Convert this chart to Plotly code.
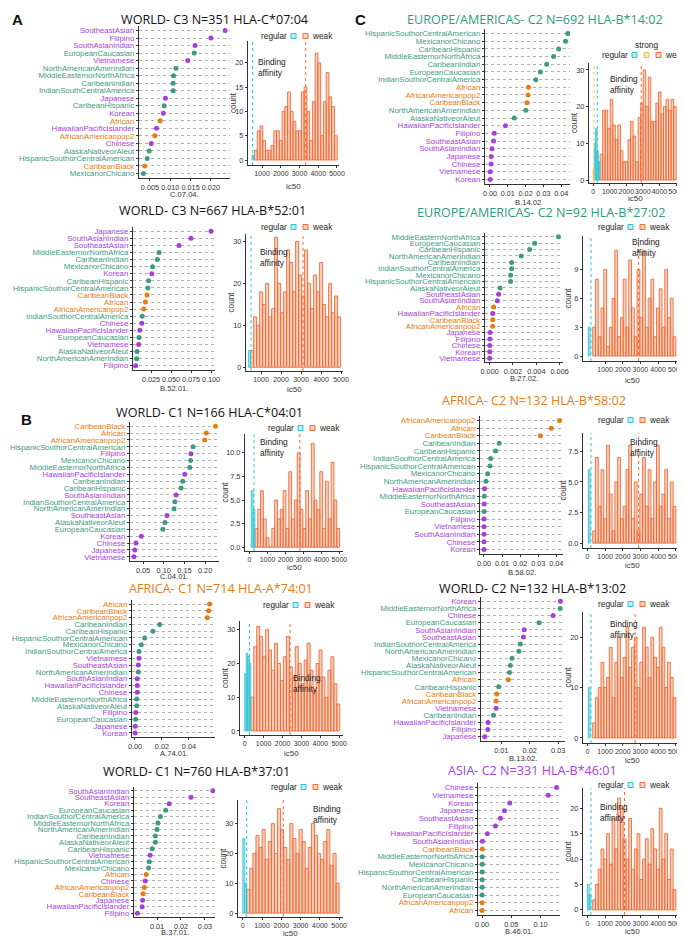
import plotly.graph_objects as go

W, H = 685, 938
PURPLE = "#A63FDB"; GREEN = "#3E9B80"; ORANGE = "#E67C12"
CYAN = "#2EC4D6"; WEAKC = "#F26A35"; STRONGC = "#EBC05A"
ASIAN = {"SoutheastAsian", "Filipino", "SouthAsianIndian", "Vietnamese", "Japanese",
         "Korean", "HawaiianPacificIslander", "Chinese"}
AFRO = {"African", "AfricanAmericanpop2", "CaribeanBlack"}

# ---------------- data ----------------
A1_pops = ["SoutheastAsian", "Filipino", "SouthAsianIndian", "EuropeanCaucasian", "Vietnamese",
           "NorthAmericanAmerindian", "MiddleEasternorNorthAfrica", "CaribeanIndian",
           "IndianSouthCentralAmerica", "Japanese", "CaribeanHispanic", "Korean", "African",
           "HawaiianPacificIslander", "AfricanAmericanpop2", "Chinese", "AlaskaNativeorAleut",
           "HispanicSouthorCentralAmerican", "CaribeanBlack", "MexicanorChicano"]
A1_freq = [0.0235, 0.0200, 0.0161, 0.0159, 0.0143, 0.0114, 0.0108, 0.0107, 0.0107, 0.0088,
           0.0085, 0.0083, 0.0075, 0.0066, 0.0062, 0.0053, 0.0048, 0.0043, 0.0037, 0.0034]
A1_weak = [2, 6, 7, 4, 2, 2, 3, 6, 6, 4, 10, 11, 14, 10, 8, 6, 6, 14, 15, 10, 4, 12, 22, 20, 5, 12, 18, 13, 11, 5]
A1_regular = [1]

A2_pops = ["Japanese", "SouthAsianIndian", "SoutheastAsian", "MiddleEasternorNorthAfrica",
           "CaribeanIndian", "MexicanorChicano", "Korean", "CaribeanHispanic",
           "HispanicSouthorCentralAmerican", "CaribeanBlack", "African", "AfricanAmericanpop2",
           "IndianSouthorCentralAmerica", "Chinese", "HawaiianPacificIslander", "EuropeanCaucasian",
           "Vietnamese", "AlaskaNativeorAleut", "NorthAmericanAmerindian", "Filipino"]
A2_freq = [0.100, 0.075, 0.060, 0.035, 0.033, 0.027, 0.026, 0.022, 0.021, 0.020, 0.018, 0.016,
           0.014, 0.0135, 0.011, 0.010, 0.0096, 0.0075, 0.0070, 0.0058]
A2_weak = [4, 12, 10, 18, 15, 20, 12, 14, 31, 20, 13, 18, 28, 25, 18, 30, 22, 17, 28, 20, 14, 22, 18, 25, 15, 12, 20, 13, 17, 12]
A2_regular = [4]

B1_pops = ["CaribeanBlack", "African", "AfricanAmericanpop2", "HispanicSouthorCentralAmerican",
           "Filipino", "MexicanorChicano", "MiddleEasternorNorthAfrica", "HawaiianPacificIslander",
           "CaribeanIndian", "CaribeanHispanic", "SouthAsianIndian", "IndianSouthorCentralAmerica",
           "NorthAmericanAmerindian", "SoutheastAsian", "AlaskaNativeorAleut", "EuropeanCaucasian",
           "Korean", "Chinese", "Japanese", "Vietnamese"]
B1_freq = [0.225, 0.203, 0.199, 0.171, 0.166, 0.165, 0.163, 0.151, 0.146, 0.142, 0.130, 0.127,
           0.125, 0.108, 0.103, 0.098, 0.046, 0.033, 0.030, 0.028]
B1_weak = [2, 4, 6, 3, 1, 0, 2, 5, 3, 4, 6, 2, 8, 3, 5, 10, 4, 2, 6, 3, 11, 5, 4, 8, 2, 7, 3, 9, 5, 2]
B1_regular = [6, 4]

B2_pops = ["African", "CaribeanBlack", "AfricanAmericanpop2", "CaribeanIndian", "CaribeanHispanic",
           "HispanicSouthorCentralAmerican", "MexicanorChicano", "IndianSouthorCentralAmerica",
           "Vietnamese", "SoutheastAsian", "NorthAmericanAmerindian", "SouthAsianIndian",
           "HawaiianPacificIslander", "Chinese", "MiddleEasternorNorthAfrica", "AlaskaNativeorAleut",
           "Filipino", "EuropeanCaucasian", "Japanese", "Korean"]
B2_freq = [0.0553, 0.0546, 0.0536, 0.0183, 0.0133, 0.0072, 0.0047, 0.0030, 0.0030, 0.0025,
           0.0025, 0.0017, 0.0017, 0.0017, 0.0013, 0.0013, 0.0006, 0.0005, 0.0002, 0.0001]
B2_weak = [10, 25, 31, 28, 22, 30, 24, 18, 26, 20, 15, 22, 28, 19, 16, 25, 20, 14, 21, 26, 18, 12, 20, 24, 16, 10, 18, 22, 14, 8]
B2_regular = [17, 23, 22, 20]

B3_pops = ["SouthAsianIndian", "SoutheastAsian", "Korean", "EuropeanCaucasian",
           "IndianSouthorCentralAmerica", "MiddleEasternorNorthAfrica", "NorthAmericanAmerindian",
           "CaribeanIndian", "AlaskaNativeorAleut", "CaribeanHispanic", "Vietnamese",
           "HispanicSouthorCentralAmerican", "MexicanorChicano", "African", "Chinese",
           "AfricanAmericanpop2", "CaribeanBlack", "Japanese", "HawaiianPacificIslander", "Filipino"]
B3_freq = [0.0333, 0.0242, 0.0151, 0.0136, 0.0114, 0.0104, 0.0100, 0.0093, 0.0093, 0.0080,
           0.0071, 0.0068, 0.0065, 0.0055, 0.0051, 0.0047, 0.0042, 0.0040, 0.0038, 0.0018]
B3_weak = [8, 15, 20, 26, 22, 28, 18, 24, 30, 20, 35, 28, 22, 18, 30, 25, 20, 28, 24, 15, 22, 30, 26, 20, 18, 24, 28, 16, 20, 10]
B3_regular = [25, 10]

C1_pops = ["HispanicSouthorCentralAmerican", "MexicanorChicano", "CaribeanHispanic",
           "MiddleEasternorNorthAfrica", "CaribeanIndian", "EuropeanCaucasian",
           "IndianSouthorCentralAmerica", "African", "AfricanAmericanpop2", "CaribeanBlack",
           "NorthAmericanAmerindian", "AlaskaNativeorAleut", "HawaiianPacificIslander", "Filipino",
           "SoutheastAsian", "SouthAsianIndian", "Japanese", "Chinese", "Vietnamese", "Korean"]
C1_freq = [0.0437, 0.0424, 0.0385, 0.0357, 0.0318, 0.0283, 0.0257, 0.0216, 0.0214, 0.0208,
           0.0201, 0.0136, 0.0087, 0.0024, 0.0020, 0.0011, 0.0007, 0.0006, 0.0001, 0.0001]
C1_weak = [7, 19, 19, 14, 22, 15, 11, 15, 8, 5, 5, 11, 16, 12, 5, 17, 21, 30, 20, 28, 16, 16, 21, 24, 18, 20, 22, 19, 22, 20]
C1_regular = [10, 14, 8, 5]
C1_strong = [3]

C2_pops = ["MiddleEasternNorthAfrica", "EuropeanCaucasian", "CaribeanHispanic",
           "NorthAmericanAmerindian", "CaribeanIndian", "IndianSouthorCentralAmerica",
           "MexicanorChicano", "HispanicSouthorCentralAmerican", "AlaskaNativeorAleut",
           "SoutheastAsian", "SouthAsianIndian", "African", "HawaiianPacificIslander",
           "CaribeanBlack", "AfricanAmericanpop2", "Japanese", "Filipino", "Chinese", "Korean",
           "Vietnamese"]
C2_freq = [0.0059, 0.00386, 0.00343, 0.00271, 0.00189, 0.00189, 0.0018, 0.0018, 0.00089, 0.00077,
           0.00066, 0.00034, 0.00026, 0.00026, 0.00026, 0.00004, 0.00002, 0.00001, 0.00001, 0.0]
C2_weak = [3, 8, 2, 5, 9, 1, 3, 6, 11, 2, 4, 8, 3, 10, 5, 2, 9, 4, 11, 3, 6, 8, 2, 5, 7, 3, 9, 4, 6, 2]
C2_regular = [3]

C3_pops = ["AfricanAmericanpop2", "African", "CaribeanBlack", "CaribeanIndian", "CaribeanHispanic",
           "IndianSouthorCentralAmerica", "HispanicSouthorCentralAmerican", "MexicanorChicano",
           "NorthAmericanAmerindian", "HawaiianPacificIslander", "MiddleEasternorNorthAfrica",
           "SoutheastAsian", "EuropeanCaucasian", "Filipino", "Vietnamese", "SouthAsianIndian",
           "Chinese", "Korean"]
C3_freq = [0.0418, 0.0372, 0.0312, 0.0084, 0.0064, 0.0037, 0.0033, 0.0020, 0.0011, 0.0003,
           0.0002, 0.0001, 0.0001, 0.0, 0.0, 0.0, 0.0, 0.0]
C3_weak = [1, 7, 3, 6, 2, 8, 4, 1, 5, 7, 2, 3, 6, 8, 2, 5, 1, 4, 7, 3, 6, 2, 5, 8, 3, 4, 6, 2, 5, 3]
C3_regular = [6]

C4_pops = ["Korean", "MiddleEasternorNorthAfrica", "Chinese", "EuropeanCaucasian",
           "SouthAsianIndian", "SoutheastAsian", "IndianSouthorCentralAmerica",
           "NorthAmericanAmerindian", "MexicanorChicano", "AlaskaNativeorAleut",
           "HispanicSouthorCentralAmerican", "African", "CaribeanHispanic", "CaribeanBlack",
           "AfricanAmericanpop2", "Vietnamese", "CaribeanIndian", "HawaiianPacificIslander",
           "Filipino", "Japanese"]
C4_freq = [0.0308, 0.0307, 0.0282, 0.0233, 0.0181, 0.0178, 0.0167, 0.0162, 0.0138, 0.0132,
           0.0129, 0.0125, 0.0091, 0.0084, 0.0082, 0.0082, 0.0073, 0.0054, 0.0053, 0.0042]
C4_weak = [3, 8, 10, 15, 10, 12, 18, 8, 15, 20, 12, 16, 22, 14, 18, 20, 10, 15, 22, 18, 12, 20, 16, 14, 22, 18, 10, 15, 12, 8]
C4_regular = [10]

C5_pops = ["Chinese", "Vietnamese", "Korean", "Japanese", "SoutheastAsian", "Filipino",
           "HawaiianPacificIslander", "SouthAsianIndian", "CaribeanBlack",
           "MiddleEasternorNorthAfrica", "MexicanorChicano", "HispanicSouthorCentralAmerican",
           "CaribeanHispanic", "NorthAmericanAmerindian", "EuropeanCaucasian",
           "AfricanAmericanpop2", "African"]
C5_freq = [0.1274, 0.1131, 0.0474, 0.0383, 0.0314, 0.0229, 0.0091, 0.0006, 0.0005, 0.0004,
           0.0004, 0.0003, 0.0003, 0.0003, 0.0002, 0.0002, 0.0001]
C5_weak = [2, 5, 8, 12, 10, 15, 9, 18, 12, 22, 20, 14, 10, 18, 8, 12, 15, 6, 10, 14, 9, 16, 12, 8, 20, 10, 15, 6, 12, 4]
C5_regular = [5, 3]

# ---------------- layout description (pixels) ----------------
P = [
    dict(title="WORLD- C3 N=351 HLA-C*07:04", tc="#111111", tx=112, ty=12,
         pops=A1_pops, freq=A1_freq, xlab="C.07.04.", xly=187, dbox=(131, 222, 18, 170),
         dxr=[0.0023, 0.0247], dtv=[0.005, 0.010, 0.015, 0.020], dtt=["0.005", "0.010", "0.015", "0.020"],
         hbox=(240, 331, 33, 157), hxr=[253, 5107], hyr=[-1.03, 24.5], hyt=[0, 5, 10, 15, 20], hytt=None,
         hxt=[1000, 2000, 3000, 4000, 5000], icy=178,
         weak=A1_weak, ws=600, wb=147, reg=A1_regular, rs=470, rb=90, strong=None,
         rline=500, wline=3330, sline=None, leg=(283, 28), bind=(248, 52)),
    dict(title="WORLD- C3 N=667 HLA-B*52:01", tc="#111111", tx=110, ty=203,
         pops=A2_pops, freq=A2_freq, xlab="B.52.01.", xly=380, dbox=(125, 207, 219, 362),
         dxr=[0.0025, 0.105], dtv=[0.025, 0.05, 0.075, 0.1], dtt=["0.025", "0.050", "0.075", "0.100"],
         hbox=(238, 335, 226, 363), hxr=[250, 5100], hyr=[-0.9, 31.8], hyt=[0, 10, 20, 30], hytt=None,
         hxt=[1000, 2000, 3000, 4000, 5000], icy=382,
         weak=A2_weak, ws=480, wb=150, reg=A2_regular, rs=380, rb=100, strong=None,
         rline=500, wline=3100, sline=None, leg=(283, 219), bind=(250, 242)),
    dict(title="WORLD- C1 N=166 HLA-C*04:01", tc="#111111", tx=107, ty=404,
         pops=B1_pops, freq=B1_freq, xlab="C.04.01.", xly=568, dbox=(122, 211, 414, 553),
         dxr=[0.0186, 0.2336], dtv=[0.05, 0.10, 0.15, 0.20], dtt=["0.05", "0.10", "0.15", "0.20"],
         hbox=(237, 335, 426, 543), hxr=[-250, 5200], hyr=[-0.4, 12], hyt=[0, 2.5, 5, 7.5, 10],
         hytt=["0.0", "2.5", "5.0", "7.5", "10.0"], hxt=[0, 1000, 2000, 3000, 4000, 5000], icy=559,
         weak=B1_weak, ws=300, wb=157, reg=B1_regular, rs=100, rb=100, strong=None,
         rline=250, wline=2800, sline=None, leg=(290, 420), bind=(250, 432)),
    dict(title="AFRICA- C1 N=714 HLA-A*74:01", tc=ORANGE, tx=120, ty=580,
         pops=B2_pops, freq=B2_freq, xlab="A.74.01.", xly=745, dbox=(124, 207, 592, 729),
         dxr=[-0.0022, 0.0593], dtv=[0.0, 0.02, 0.04], dtt=["0.00", "0.02", "0.04"],
         hbox=(232, 335, 613, 727), hxr=[-250, 5200], hyr=[-1.2, 32.6], hyt=[0, 10, 20, 30], hytt=None,
         hxt=[0, 1000, 2000, 3000, 4000, 5000], icy=745,
         weak=B2_weak, ws=320, wb=157, reg=B2_regular, rs=0, rb=80, strong=None,
         rline=250, wline=2400, sline=None, leg=(285, 597), bind=(283, 668)),
    dict(title="WORLD- C1 N=760 HLA-B*37:01", tc="#111111", tx=94, ty=763,
         pops=B3_pops, freq=B3_freq, xlab="B.37.01.", xly=924, dbox=(126, 207, 779, 909),
         dxr=[0.0004, 0.0342], dtv=[0.01, 0.02, 0.03], dtt=["0.01", "0.02", "0.03"],
         hbox=(230, 335, 792, 909), hxr=[-250, 5200], hyr=[-1.3, 37.9], hyt=[0, 10, 20, 30], hytt=None,
         hxt=[0, 1000, 2000, 3000, 4000, 5000], icy=925,
         weak=B3_weak, ws=200, wb=160, reg=B3_regular, rs=0, rb=100, strong=None,
         rline=200, wline=2100, sline=None, leg=(293, 779), bind=(303, 799)),
    dict(title="EUROPE/AMERICAS- C2 N=692 HLA-B*14:02", tc="#2E9A80", tx=398, ty=12,
         pops=C1_pops, freq=C1_freq, xlab="B.14.02", xly=194, dbox=(477, 562, 21, 176),
         dxr=[-0.0028, 0.0449], dtv=[0, 0.01, 0.02, 0.03, 0.04], dtt=["0.00", "0.01", "0.02", "0.03", "0.04"],
         hbox=(581, 673, 55, 175), hxr=[-250, 5300], hyr=[-0.8, 31.9], hyt=[0, 10, 20, 30], hytt=None,
         hxt=[0, 1000, 2000, 3000, 4000, 5000], icy=191,
         weak=C1_weak, ws=420, wb=153, reg=C1_regular, rs=70, rb=80, strong=C1_strong, ss=0, sb=60,
         rline=250, wline=2900, sline=50, leg=(624, 47), bind=(600, 69)),
    dict(title="EUROPE/AMERICAS- C2 N=92 HLA-B*27:02", tc="#2E9A80", tx=408, ty=204,
         pops=C2_pops, freq=C2_freq, xlab="B.27.02.", xly=371, dbox=(477, 555, 225, 354),
         dxr=[-0.0004, 0.00629], dtv=[0, 0.002, 0.004, 0.006], dtt=["0.000", "0.002", "0.004", "0.006"],
         hbox=(575, 673, 228, 353), hxr=[-250, 5300], hyr=[-0.52, 12.5], hyt=[0, 3, 6, 9], hytt=None,
         hxt=[1000, 2000, 3000, 4000, 5000], icy=372,
         weak=C2_weak, ws=300, wb=157, reg=C2_regular, rs=50, rb=100, strong=None,
         rline=200, wline=2900, sline=None, leg=(620, 219), bind=(622, 232)),
    dict(title="AFRICA- C2 N=132 HLA-B*58:02", tc=ORANGE, tx=433, ty=392,
         pops=C3_pops, freq=C3_freq, xlab="B.58.02.", xly=564, dbox=(472, 555, 408, 546),
         dxr=[-0.0022, 0.0437], dtv=[0, 0.01, 0.02, 0.03, 0.04], dtt=["0.00", "0.01", "0.02", "0.03", "0.04"],
         hbox=(575, 673, 425, 540), hxr=[-250, 5300], hyr=[-0.4, 9.0], hyt=[0, 2.5, 5, 7.5],
         hytt=["0.0", "2.5", "5.0", "7.5"], hxt=[0, 1000, 2000, 3000, 4000, 5000], icy=557,
         weak=C3_weak, ws=300, wb=157, reg=C3_regular, rs=50, rb=100, strong=None,
         rline=200, wline=2900, sline=None, leg=(620, 412), bind=(620, 432)),
    dict(title="WORLD- C2 N=132 HLA-B*13:02", tc="#111111", tx=430, ty=580,
         pops=C4_pops, freq=C4_freq, xlab="B.13.02.", xly=750, dbox=(473, 557, 589, 733),
         dxr=[0.0029, 0.0324], dtv=[0.01, 0.02, 0.03], dtt=["0.01", "0.02", "0.03"],
         hbox=(575, 673, 604, 735), hxr=[-250, 5300], hyr=[-1.0, 25], hyt=[0, 10, 20], hytt=None,
         hxt=[0, 1000, 2000, 3000, 4000, 5000], icy=752,
         weak=C4_weak, ws=300, wb=157, reg=C4_regular, rs=50, rb=100, strong=None,
         rline=200, wline=2700, sline=None, leg=(620, 596), bind=(600, 614)),
    dict(title="ASIA- C2 N=331 HLA-B*46:01", tc=PURPLE, tx=439, ty=762,
         pops=C5_pops, freq=C5_freq, xlab="B.46.01.", xly=923, dbox=(470, 552, 775, 907),
         dxr=[-0.0069, 0.1333], dtv=[0, 0.05, 0.10], dtt=["0.00", "0.05", "0.10"],
         hbox=(575, 673, 780, 907), hxr=[-250, 5300], hyr=[-1.0, 24], hyt=[0, 5, 10, 15, 20], hytt=None,
         hxt=[0, 1000, 2000, 3000, 4000, 5000], icy=923,
         weak=C5_weak, ws=300, wb=157, reg=C5_regular, rs=0, rb=100, strong=None,
         rline=200, wline=2100, sline=None, leg=(620, 777), bind=(590, 797)),
]

def fx(x): return x / W
def fy(y): return 1 - y / H
def pcol(p):
    if p in ASIAN: return PURPLE
    if p in AFRO: return ORANGE
    return GREEN

TXT = "Liberation Sans, Arial, sans-serif"
fig = go.Figure()
layout = dict(width=W, height=H, margin=dict(l=0, r=0, t=0, b=0), paper_bgcolor="white",
              plot_bgcolor="white", showlegend=False, barmode="overlay",
              font=dict(family=TXT, size=8, color="#333333"))
annotations, shapes = [], []

def axis_common():
    return dict(showline=True, linecolor="#333333", linewidth=1, ticks="outside", ticklen=2,
                tickcolor="#333333", tickfont=dict(size=7.3, color="#333333", family=TXT),
                zeroline=False, fixedrange=True, tickangle=0, automargin=False)

def note(text, x, y, size=8, color="#333333", xa="center", ya="middle", angle=0, family=TXT):
    annotations.append(dict(text=text, x=fx(x), y=fy(y), xref="paper", yref="paper", showarrow=False,
                            xanchor=xa, yanchor=ya, textangle=angle, borderpad=0,
                            font=dict(size=size, color=color, family=family)))

for k, p in enumerate(P):
    d = 2 * k + 1; h = 2 * k + 2
    n = len(p["pops"])
    ys = [n - 1 - i for i in range(n)]
    cols = [pcol(q) for q in p["pops"]]
    fig.add_trace(go.Scatter(x=p["freq"], y=ys, mode="markers", xaxis=f"x{d}", yaxis=f"y{d}",
                             marker=dict(size=5, color=cols), hoverinfo="skip"))
    x0, x1, y0, y1 = p["dbox"]
    ax = axis_common(); ax.update(domain=[fx(x0), fx(x1)], range=p["dxr"], anchor=f"y{d}",
                                  tickvals=p["dtv"], ticktext=p["dtt"], showgrid=False)
    ay = axis_common(); ay.update(domain=[fy(y1), fy(y0)], range=[-0.6, n - 0.4], anchor=f"x{d}",
                                  tickvals=ys,
                                  ticktext=[f'<span style="color:{c}">{q}</span>' for q, c in zip(p["pops"], cols)],
                                  tickfont=dict(size=7.8, family=TXT), ticklen=2, showgrid=True,
                                  gridcolor="#B0B0B0", griddash="dot", gridwidth=0.8, linewidth=1.3)
    layout[f"xaxis{d}"] = ax; layout[f"yaxis{d}"] = ay
    note(p["xlab"], (x0 + x1) / 2, p["xly"], size=7.6)

    # histogram
    wc = [p["ws"] + p["wb"] * (i + 0.5) for i in range(len(p["weak"]))]
    fig.add_trace(go.Bar(x=wc, y=p["weak"], width=p["wb"], xaxis=f"x{h}", yaxis=f"y{h}",
                         marker=dict(color="rgba(246,130,80,0.38)", line=dict(color=WEAKC, width=0.9)),
                         hoverinfo="skip"))
    rc = [p["rs"] + p["rb"] * (i + 0.5) for i in range(len(p["reg"]))]
    fig.add_trace(go.Bar(x=rc, y=p["reg"], width=p["rb"], xaxis=f"x{h}", yaxis=f"y{h}",
                         marker=dict(color="rgba(46,196,214,0.35)", line=dict(color=CYAN, width=0.9)),
                         hoverinfo="skip"))
    if p["strong"]:
        sc = [p["ss"] + p["sb"] * (i + 0.5) for i in range(len(p["strong"]))]
        fig.add_trace(go.Bar(x=sc, y=p["strong"], width=p["sb"], xaxis=f"x{h}", yaxis=f"y{h}",
                             marker=dict(color="rgba(235,192,90,0.45)", line=dict(color=STRONGC, width=0.9)),
                             hoverinfo="skip"))
    hx0, hx1, hy0, hy1 = p["hbox"]
    bx = axis_common(); bx.update(domain=[fx(hx0), fx(hx1)], range=p["hxr"], anchor=f"y{h}",
                                  tickvals=p["hxt"], showgrid=False,
                                  tickfont=dict(size=7.0, color="#333333", family=TXT))
    by = axis_common(); by.update(domain=[fy(hy1), fy(hy0)], range=p["hyr"], anchor=f"x{h}",
                                  tickvals=p["hyt"], showgrid=False, linewidth=1.3)
    if p["hytt"]:
        by["ticktext"] = p["hytt"]
    layout[f"xaxis{h}"] = bx; layout[f"yaxis{h}"] = by
    note("ic50", (hx0 + hx1) / 2, p["icy"], size=8.0)
    ylab_off = 20 if p["hytt"] else 15
    note("count", hx0 - ylab_off, (hy0 + hy1) / 2, size=8.2, angle=-90)

    for val, c in ((p["rline"], CYAN), (p["wline"], WEAKC), (p["sline"], STRONGC)):
        if val is None:
            continue
        shapes.append(dict(type="line", xref=f"x{h}", yref=f"y{h} domain", x0=val, x1=val, y0=0, y1=1,
                           line=dict(color=c, width=1, dash="dot")))

    note(p["title"], p["tx"], p["ty"], size=12.6, color=p["tc"], xa="left",
         family="Open Sans, Noto Sans, sans-serif")
    bxp, byp = p["bind"]
    annotations.append(dict(text="Binding<br>affinity", x=fx(bxp), y=fy(byp - 5), xref="paper", yref="paper",
                            showarrow=False, xanchor="left", yanchor="top", align="left",
                            font=dict(size=8.3, color="#222222", family=TXT)))
    # legend
    lx, ly = p["leg"]
    items = [(CYAN, "rgba(46,196,214,0.3)")]
    if p["strong"]:
        items.append((STRONGC, "rgba(235,192,90,0.35)"))
    items.append((WEAKC, "rgba(246,130,80,0.35)"))
    bw_ = 5; step = 12
    cx = lx
    for j, (lc, fc) in enumerate(items):
        shapes.append(dict(type="rect", xref="paper", yref="paper",
                           x0=fx(cx), x1=fx(cx + bw_), y0=fy(ly + bw_ / 2), y1=fy(ly - bw_ / 2),
                           line=dict(color=lc, width=1), fillcolor=fc))
        if p["strong"] and j == 1:
            note("strong", cx + bw_ / 2, ly - 10, size=8.3, color="#222222")
        cx += step
    note("regular", lx - 3, ly, size=8.3, color="#222222", xa="right")
    note("weak", cx - step + bw_ + 3, ly, size=8.3, color="#222222", xa="left")

for letter, x, y in (("A", 9, 12), ("B", 18, 412), ("C", 353, 12)):
    note(f"<b>{letter}</b>", x, y, size=15, color="#111111")

layout["annotations"] = annotations
layout["shapes"] = shapes
fig.update_layout(**layout)
fig.write_html("out.html")
